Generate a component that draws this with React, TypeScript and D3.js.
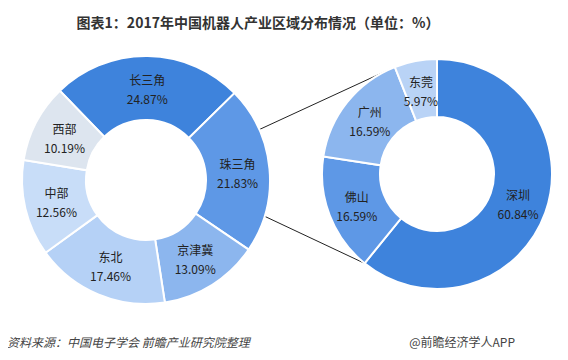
import React from 'react';
import * as d3 from 'd3';

// 2017 China robot industry by region (%)
const regions = ['长三角', '珠三角', '京津冀', '东北', '中部', '西部'];
const regionValues = [24.87, 21.83, 13.09, 17.46, 12.56, 10.19];
const regionColors = ['#3e83dc', '#5e98e6', '#8cb6ee', '#b5d1f6', '#c8ddf8', '#dde5ef'];

// breakdown of 珠三角
const cities = ['深圳', '佛山', '广州', '东莞'];
const cityValues = [60.84, 16.59, 16.59, 5.97];
const cityColors = ['#3e83dc', '#5e98e6', '#8cb6ee', '#b9d3f6'];

const W = 568;
const H = 360;
const FONT = '"Noto Sans CJK SC", "Microsoft YaHei", sans-serif';

const toRad = (deg: number) => (deg * Math.PI) / 180;

interface DonutProps {
  cx: number;
  cy: number;
  outer: number;
  inner: number;
  names: string[];
  values: number[];
  colors: string[];
  start: number; // degrees
}

const Donut: React.FC<DonutProps> = ({ cx, cy, outer, inner, names, values, colors, start }) => {
  const pie = d3.pie<number>()
    .sort(null)
    .startAngle(toRad(start))
    .endAngle(toRad(start + 360))
    .padAngle(0);
  const arcs = pie(values);
  const arc = d3.arc<d3.PieArcDatum<number>>().innerRadius(inner).outerRadius(outer);
  const labelArc = d3.arc<d3.PieArcDatum<number>>()
    .innerRadius((inner + outer) / 2)
    .outerRadius((inner + outer) / 2);

  return (
    <g transform={`translate(${cx},${cy})`}>
      {arcs.map((a, i) => (
        <path key={names[i]} d={arc(a) || ''} fill={colors[i]} stroke="#fff" strokeWidth={2} />
      ))}
      {arcs.map((a, i) => {
        const [lx, ly] = labelArc.centroid(a);
        return (
          <text key={'t' + names[i]} x={lx} y={ly} textAnchor="middle" fontSize={12} fill="#222" fontFamily={FONT}>
            <tspan x={lx} dy={-3}>{names[i]}</tspan>
            <tspan x={lx} dy={19}>{values[i].toFixed(2)}%</tspan>
          </text>
        );
      })}
    </g>
  );
};

export default function App() {
  const L = { cx: 146, cy: 180, outer: 124, inner: 60, start: -44 };
  const R = { cx: 437, cy: 174, outer: 115, inner: 57, start: 0 };

  // connector endpoints: on 珠三角 outer edge -> right donut boundaries
  const rPie = d3.pie<number>().sort(null)(cityValues);
  const rTopAngle = rPie[rPie.length - 1].startAngle; // 东莞 start
  const rBotAngle = rPie[0].endAngle; // 深圳 end
  const pt = (c: { cx: number; cy: number }, r: number, a: number) => [c.cx + r * Math.sin(a), c.cy - r * Math.cos(a)];
  const l1 = pt(L, L.outer, toRad(66));
  const l2 = pt(L, L.outer, toRad(107));
  const r1 = pt(R, R.outer, rTopAngle);
  const r2 = pt(R, R.outer, rBotAngle);

  return (
    <svg width={W} height={H} style={{ display: 'block', margin: -8, background: '#fff' }}>
      <rect width={W} height={H} fill="#fff" />
      <text x={258} y={28} textAnchor="middle" fontSize={14} fontWeight="bold" fill="#333" fontFamily={FONT}>
        图表1：2017年中国机器人产业区域分布情况（单位：%）
      </text>

      <line x1={l1[0]} y1={l1[1]} x2={r1[0]} y2={r1[1]} stroke="#222" strokeWidth={1} />
      <line x1={l2[0]} y1={l2[1]} x2={r2[0]} y2={r2[1]} stroke="#222" strokeWidth={1} />

      <Donut {...L} names={regions} values={regionValues} colors={regionColors} />
      <Donut {...R} names={cities} values={cityValues} colors={cityColors} />

      <text x={7} y={347} fontSize={12} fontStyle="italic" fill="#444" fontFamily={FONT}>
        资料来源：中国电子学会 前瞻产业研究院整理
      </text>
      <text x={515} y={347} textAnchor="end" fontSize={12} fill="#444" fontFamily={FONT}>
        @前瞻经济学人APP
      </text>
    </svg>
  );
}
